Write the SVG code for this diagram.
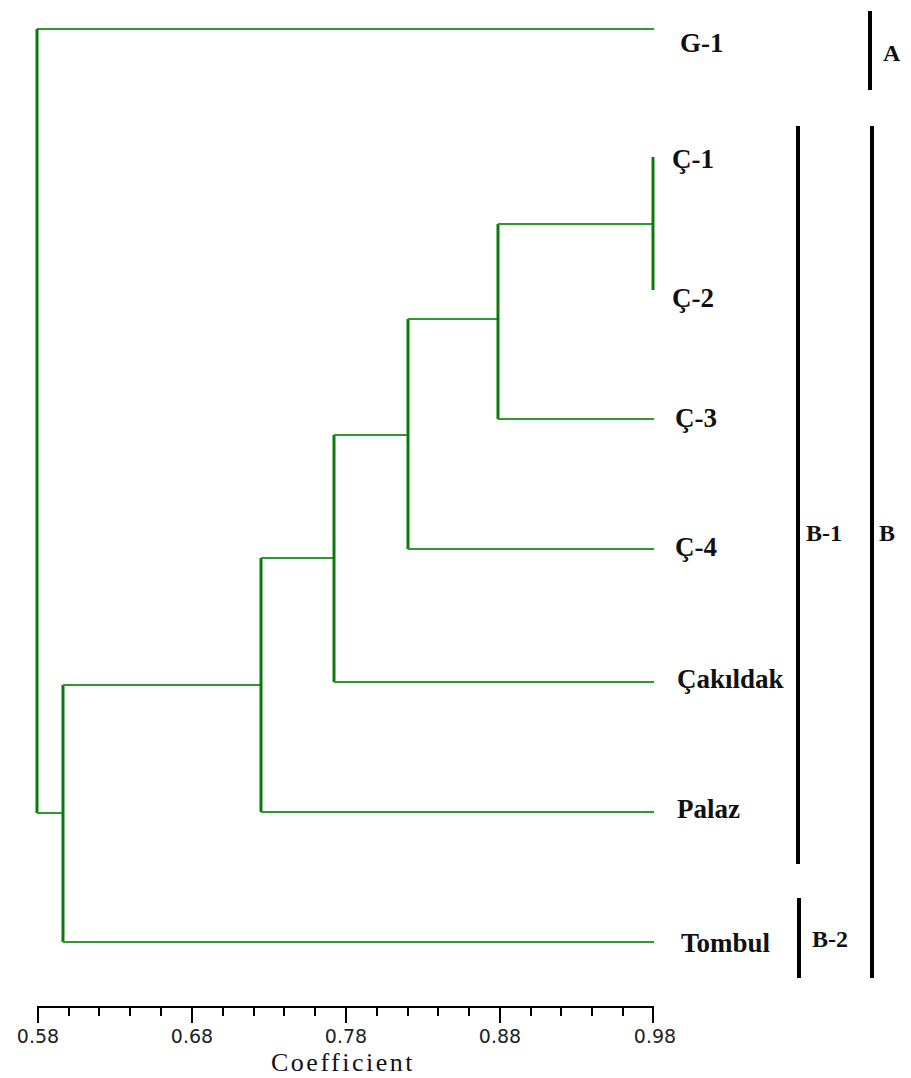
<svg xmlns="http://www.w3.org/2000/svg" width="911" height="1078" viewBox="0 0 911 1078">
<style>
.h{stroke:#2c9a2c;stroke-width:2;fill:none}
.v{stroke:#0b7a0b;stroke-width:3;fill:none}
.leaf{font-family:"Liberation Serif","Times New Roman",serif;font-weight:bold;font-size:27px;fill:#111}
.grp{font-family:"Liberation Serif","Times New Roman",serif;font-weight:bold;font-size:24px;fill:#111}
.bar{stroke:#000;stroke-width:4}
.ax{stroke:#000;stroke-width:2}
.tk{font-family:"DejaVu Sans",sans-serif;font-size:19px;fill:#222;text-anchor:middle}
.ttl{font-family:"Liberation Serif","Times New Roman",serif;font-size:26px;letter-spacing:2.5px;fill:#111;text-anchor:middle}
</style>
<rect width="911" height="1078" fill="#fff"/>
<g id="connectors">
<line class="h" x1="37" y1="29" x2="654" y2="29"/>
<line class="v" x1="37" y1="29" x2="37" y2="813"/>
<line class="h" x1="37" y1="813" x2="63" y2="813"/>
<line class="v" x1="63" y1="685" x2="63" y2="942"/>
<line class="h" x1="63" y1="942" x2="654" y2="942"/>
<line class="h" x1="63" y1="685" x2="261" y2="685"/>
<line class="v" x1="261" y1="558" x2="261" y2="812"/>
<line class="h" x1="261" y1="812" x2="654" y2="812"/>
<line class="h" x1="261" y1="558" x2="334" y2="558"/>
<line class="v" x1="334" y1="435" x2="334" y2="682"/>
<line class="h" x1="334" y1="682" x2="654" y2="682"/>
<line class="h" x1="334" y1="435" x2="408" y2="435"/>
<line class="v" x1="408" y1="319" x2="408" y2="549"/>
<line class="h" x1="408" y1="549" x2="654" y2="549"/>
<line class="h" x1="408" y1="319" x2="498" y2="319"/>
<line class="v" x1="498" y1="224" x2="498" y2="419"/>
<line class="h" x1="498" y1="419" x2="654" y2="419"/>
<line class="h" x1="498" y1="224" x2="654" y2="224"/>
<line class="v" x1="653" y1="157" x2="653" y2="290"/>
</g>
<g id="G-1"><text class="leaf" x="680" y="52">G-1</text></g>
<g id="C-1"><text class="leaf" x="672" y="168">Ç-1</text></g>
<g id="C-2"><text class="leaf" x="672" y="307">Ç-2</text></g>
<g id="C-3"><text class="leaf" x="675" y="427">Ç-3</text></g>
<g id="C-4"><text class="leaf" x="675" y="556">Ç-4</text></g>
<g id="Cakildak"><text class="leaf" x="677" y="688">Çakıldak</text></g>
<g id="Palaz"><text class="leaf" x="677" y="818">Palaz</text></g>
<g id="Tombul"><text class="leaf" x="681" y="952">Tombul</text></g>
<g id="group-A"><line class="bar" x1="870" y1="11" x2="870" y2="90"/><text class="grp" x="883" y="61">A</text></g>
<g id="group-B1"><line class="bar" x1="798" y1="126" x2="798" y2="864"/><text class="grp" x="806" y="541">B-1</text></g>
<g id="group-B"><line class="bar" x1="872" y1="126" x2="872" y2="978"/><text class="grp" x="879" y="541">B</text></g>
<g id="group-B2"><line class="bar" x1="799" y1="898" x2="799" y2="978"/><text class="grp" x="812" y="947">B-2</text></g>
<g id="axis">
<line class="ax" x1="37" y1="1007" x2="654" y2="1007"/>
<g class="ax">
<line x1="38" y1="1006" x2="38" y2="1023"/>
<line x1="192" y1="1006" x2="192" y2="1023"/>
<line x1="346" y1="1006" x2="346" y2="1023"/>
<line x1="500" y1="1006" x2="500" y2="1023"/>
<line x1="653" y1="1006" x2="653" y2="1023"/>
<line x1="69" y1="1006" x2="69" y2="1016"/>
<line x1="99" y1="1006" x2="99" y2="1016"/>
<line x1="130" y1="1006" x2="130" y2="1016"/>
<line x1="161" y1="1006" x2="161" y2="1016"/>
<line x1="223" y1="1006" x2="223" y2="1016"/>
<line x1="254" y1="1006" x2="254" y2="1016"/>
<line x1="284" y1="1006" x2="284" y2="1016"/>
<line x1="315" y1="1006" x2="315" y2="1016"/>
<line x1="377" y1="1006" x2="377" y2="1016"/>
<line x1="408" y1="1006" x2="408" y2="1016"/>
<line x1="438" y1="1006" x2="438" y2="1016"/>
<line x1="469" y1="1006" x2="469" y2="1016"/>
<line x1="531" y1="1006" x2="531" y2="1016"/>
<line x1="561" y1="1006" x2="561" y2="1016"/>
<line x1="592" y1="1006" x2="592" y2="1016"/>
<line x1="623" y1="1006" x2="623" y2="1016"/>
</g>
<text class="tk" x="38" y="1043">0.58</text>
<text class="tk" x="192" y="1043">0.68</text>
<text class="tk" x="346" y="1043">0.78</text>
<text class="tk" x="500" y="1043">0.88</text>
<text class="tk" x="655" y="1043">0.98</text>
<text class="ttl" x="343" y="1071">Coefficient</text>
</g>
</svg>
